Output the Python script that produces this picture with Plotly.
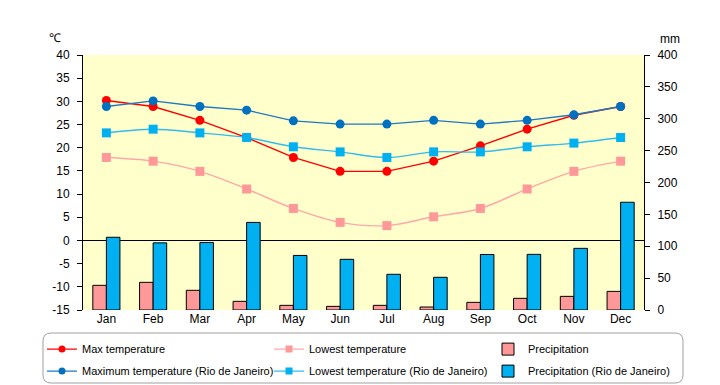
import plotly.graph_objects as go

months = ["Jan", "Feb", "Mar", "Apr", "May", "Jun", "Jul", "Aug", "Sep", "Oct", "Nov", "Dec"]

max_temp = [30.2, 28.9, 25.9, 22.2, 17.9, 14.9, 14.9, 17.1, 20.4, 24.0, 27.0, 28.9]
low_temp = [17.9, 17.1, 14.9, 11.1, 6.9, 3.9, 3.2, 5.1, 6.9, 11.1, 14.9, 17.1]
precip = [38.7, 43.4, 30.9, 13.6, 7.3, 5.7, 7.3, 4.7, 12.0, 18.3, 21.4, 29.2]

rio_max = [28.9, 30.1, 28.9, 28.1, 25.8, 25.1, 25.1, 25.9, 25.1, 25.9, 27.1, 28.9]
rio_low = [23.2, 24.0, 23.2, 22.2, 20.2, 19.1, 17.9, 19.1, 19.1, 20.2, 21.0, 22.2]
rio_precip = [114.1, 105.3, 106.0, 137.4, 85.6, 79.5, 56.0, 51.3, 87.1, 87.3, 96.7, 169.0]

temp_ticks = [-15, -10, -5, 0, 5, 10, 15, 20, 25, 30, 35, 40]
temp_tick_text = ["-15", "-10", "-5", "0", "5", "10", "15", "20", "25", "30", "35", "40"]
mm_ticks = [0, 50, 100, 150, 200, 250, 300, 350, 400]

FONT = "Liberation Sans"

series = [
    # name, data, axis, kind, color, line color, symbol, spline, legend column
    ("Precipitation", precip, "y", "bar", "#FF9999", None, None, False, "legend3"),
    ("Precipitation (Rio de Janeiro)", rio_precip, "y", "bar", "#00B0F0", None, None, False, "legend3"),
    ("Max temperature", max_temp, "y2", "line", "#FF0000", "#FF0000", "circle", False, "legend"),
    ("Lowest temperature", low_temp, "y2", "line", "#FF9999", "#FFA8A8", "square", True, "legend2"),
    ("Maximum temperature (Rio de Janeiro)", rio_max, "y2", "line", "#0070C0", "#1F78C0", "circle", False, "legend"),
    ("Lowest temperature (Rio de Janeiro)", rio_low, "y2", "line", "#00B0F0", "#33BBEE", "square", True, "legend2"),
]
rank = {"Max temperature": 1, "Maximum temperature (Rio de Janeiro)": 2,
        "Lowest temperature": 1, "Lowest temperature (Rio de Janeiro)": 2,
        "Precipitation": 1, "Precipitation (Rio de Janeiro)": 2}

fig = go.Figure()
for name, data, ax, kind, color, lcolor, symbol, spline, leg in series:
    if kind == "bar":
        fig.add_trace(go.Bar(x=months, y=data, name=name, yaxis=ax,
                             marker=dict(color=color, line=dict(color="black", width=1)),
                             legend=leg, legendgroup=name, legendrank=rank[name]))
    else:
        fig.add_trace(go.Scatter(x=months, y=data, name=name, yaxis=ax, mode="lines+markers",
                                 line=dict(color=lcolor, width=1.4,
                                           shape="spline" if spline else "linear"),
                                 marker=dict(symbol=symbol, size=9, color=color),
                                 showlegend=False))
        # legend entry with a smaller marker, as in the reference legend
        fig.add_trace(go.Scatter(x=[None], y=[None], name=name, yaxis=ax, mode="lines+markers",
                                 line=dict(color=lcolor, width=1.4),
                                 marker=dict(symbol=symbol, size=7, color=color),
                                 legend=leg, legendgroup=name, legendrank=rank[name],
                                 hoverinfo="skip"))

W, H = 712, 377          # page body has an 8px margin
L, R, T, B = 75, 76, 47, 75
PW, PH = W - L - R, H - T - B

def legend_at(text_x):
    return dict(orientation="v", x=(text_x - 40 - L) / PW, xanchor="left",
                y=-24.6 / PH, yanchor="top", bgcolor="rgba(0,0,0,0)", borderwidth=0,
                tracegroupgap=3, font=dict(family=FONT, size=11), traceorder="grouped")

fig.update_layout(
    width=W, height=H,
    margin=dict(l=L, r=R, t=T, b=B, autoexpand=False),
    paper_bgcolor="white",
    plot_bgcolor="#FFFFCC",
    font=dict(family=FONT, size=11, color="black"),
    barmode="group",
    bargap=0.42,
    bargroupgap=0,
    showlegend=True,
    xaxis=dict(type="category", range=[-0.5, len(months) - 0.5], showgrid=False,
               showline=False, ticks="", tickfont=dict(size=12)),
    yaxis=dict(range=[0, 400], tickvals=mm_ticks, side="right", showgrid=False,
               zeroline=False, showline=True, linecolor="black", linewidth=1,
               ticks="outside", ticklen=5, tickcolor="black", tickfont=dict(size=12),
               ticklabelstandoff=5),
    yaxis2=dict(range=[-15, 40], tickvals=temp_ticks, ticktext=temp_tick_text,
                overlaying="y", side="left", showgrid=False,
                zeroline=True, zerolinecolor="black", zerolinewidth=1,
                showline=True, linecolor="black", linewidth=1,
                ticks="outside", ticklen=5, tickcolor="black", tickfont=dict(size=12),
                ticklabelstandoff=5),
    legend=legend_at(74),
    legend2=legend_at(301),
    legend3=legend_at(520),
    annotations=[
        dict(text="℃", xref="paper", yref="paper", x=-28 / PW, y=1 + 16.7 / PH, xanchor="center",
             yanchor="middle", showarrow=False, font=dict(size=12)),
        dict(text="mm", xref="paper", yref="paper", x=1 + 26 / PW, y=1 + 16 / PH, xanchor="center",
             yanchor="middle", showarrow=False, font=dict(size=12)),
    ],
)

# rounded legend frame (paper coords)
x0, x1 = -40 / PW, 600 / PW
y0, y1 = -73 / PH, -23 / PH
rx, ry = 8 / PW, 8 / PH
path = (f"M {x0+rx},{y1} L {x1-rx},{y1} Q {x1},{y1} {x1},{y1-ry} "
        f"L {x1},{y0+ry} Q {x1},{y0} {x1-rx},{y0} L {x0+rx},{y0} "
        f"Q {x0},{y0} {x0},{y0+ry} L {x0},{y1-ry} Q {x0},{y1} {x0+rx},{y1} Z")
fig.add_shape(type="path", path=path, xref="paper", yref="paper",
              line=dict(color="#A0A0A0", width=1))

fig.write_html("out.html")
